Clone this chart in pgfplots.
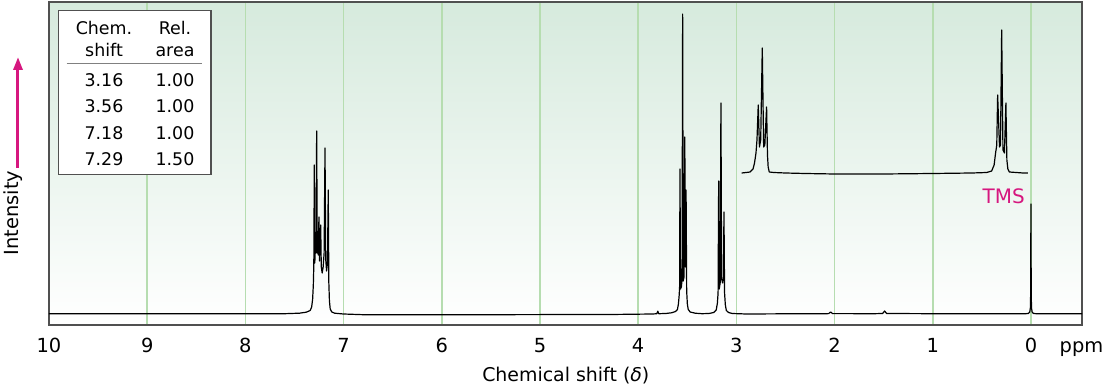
\documentclass[border=0pt]{standalone}
\usepackage{pgfplots}
\pgfplotsset{compat=1.18}
\usepackage{fontspec}
\setmainfont{DejaVu Sans}
\usetikzlibrary{arrows.meta}
\definecolor{gridgreen}{RGB}{182,221,176}
\definecolor{mag}{RGB}{214,23,127}
\definecolor{framec}{RGB}{80,80,80}
\definecolor{bgtop}{RGB}{214,234,221}
\begin{document}
\begin{tikzpicture}
\useasboundingbox (-49bp,-63bp) rectangle (1056bp,325bp);
\begin{axis}[
  at={(0,0)}, anchor=south west,
  scale only axis, width=1033bp, height=323bp,
  x dir=reverse, xmin=-0.52, xmax=10, ymin=0, ymax=323,
  xtick={0,...,10}, ytick=\empty,
  major tick length=0pt,
  xmajorgrids, grid style={gridgreen, line width=1.6bp},
  axis line style={framec, line width=1.8bp},
  axis background/.style={top color=bgtop, bottom color=white},
  xticklabel style={font=\fontsize{19.5}{20}\selectfont, anchor=base, yshift=-27.3bp},
  /pgf/number format/assume math mode=true,
]
\addplot[black, line width=1.2bp, line join=round] coordinates {
(10.00,11.2) (9.0,11.2) (8.0,11.2) (7.6,11.3) (7.45,11.8) (7.38,12.8) (7.34,14.5) (7.325,18) (7.315,26) (7.308,40) (7.303,60) (7.298,160) (7.293,62) (7.287,78) (7.281,72) (7.274,194) (7.268,72) (7.262,88) (7.257,70) (7.251,108) (7.246,64) (7.240,78) (7.233,100) (7.227,58) (7.218,52) (7.208,58) (7.198,72) (7.189,177) (7.182,66) (7.173,54) (7.164,62) (7.156,135) (7.150,42) (7.144,24) (7.136,16) (7.12,13) (7.09,11.8) (7.0,11) (6.8,10.3) (6.0,10.2) (5.0,10.4) (4.2,10.6) (3.85,11) (3.81,11.3) (3.80,13.8) (3.79,11.3) (3.72,11.5) (3.66,12.2) (3.62,13.5) (3.60,15.5) (3.590,21) (3.582,30) (3.578,38) (3.574,156) (3.569,36) (3.560,38) (3.553,45) (3.547,311) (3.541,44) (3.533,48) (3.525,188) (3.519,58) (3.512,135) (3.506,34) (3.499,21) (3.490,15.5) (3.47,13) (3.42,11.8) (3.35,11.3) (3.28,11.5) (3.23,12.5) (3.205,15) (3.193,22) (3.186,32) (3.180,144) (3.174,36) (3.165,42) (3.157,222) (3.150,46) (3.140,42) (3.132,48) (3.126,113) (3.120,32) (3.112,20) (3.102,14.5) (3.08,12.5) (3.04,11.5) (2.9,11) (2.5,11.2) (2.1,11.2) (2.06,11.4) (2.04,13) (2.02,11.4) (1.6,11.3) (1.51,11.5) (1.49,14) (1.47,11.5) (1.0,11.3) (0.3,11.2) (0.06,11.2) (0.025,11.6) (0.012,13) (0.006,17) (0.003,30) (0.0,121) (-0.003,30) (-0.006,17) (-0.012,13) (-0.025,11.6) (-0.06,11.2) (-0.52,11.2)
};
\addplot[black, line width=1.2bp, line join=round] coordinates {
(2.946,152) (2.90,152.5) (2.86,153) (2.83,156) (2.815,162) (2.80,172) (2.790,185) (2.777,220) (2.765,178) (2.752,185) (2.736,277) (2.722,178) (2.710,180) (2.692,218) (2.683,170) (2.676,158) (2.665,153) (2.62,152.5) (2.5,152) (2.3,151.5) (2.0,151) (1.5,151) (1.0,151.5) (0.6,152) (0.45,152.5) (0.40,154) (0.375,160) (0.36,172) (0.348,180) (0.339,230) (0.320,178) (0.310,180) (0.298,295) (0.285,175) (0.270,172) (0.255,222) (0.245,165) (0.235,156) (0.22,153) (0.15,152.5) (0.08,152) (0.031,152)
};
\end{axis}
\begin{scope}[shift={(current axis.north west)}]
  \draw[fill=white, draw=framec, line width=1.2bp] (9.7bp,-8.7bp) rectangle (162bp,-172.3bp);
  \draw[gray, line width=1bp] (17.7bp,-62bp) -- (152.7bp,-62bp);
  \begin{scope}[every node/.style={anchor=base, inner sep=0pt, font=\fontsize{17.5}{18}\selectfont}]
    \node at (55bp,-32.3bp) {Chem.};
    \node at (126bp,-32.3bp) {Rel.};
    \node at (55bp,-54.7bp) {shift};
    \node at (126bp,-54.7bp) {area};
    \node at (55bp,-84.7bp) {3.16};
    \node at (126bp,-84.7bp) {1.00};
    \node at (55bp,-110.3bp) {3.56};
    \node at (126bp,-110.3bp) {1.00};
    \node at (55bp,-137.3bp) {7.18};
    \node at (126bp,-137.3bp) {1.00};
    \node at (55bp,-163.7bp) {7.29};
    \node at (126bp,-163.7bp) {1.50};
  \end{scope}
  \draw[mag, line width=3bp, -{Triangle[length=13bp,width=9bp]}] (-31bp,-166bp) -- (-31bp,-55bp);
  \node[rotate=90, anchor=base, inner sep=0pt, font=\fontsize{19.5}{20}\selectfont] at (-31bp,-211bp) {Intensity};
  \node[anchor=base, inner sep=0pt, text=mag, font=\fontsize{20}{20}\selectfont] at (954.7bp,-201.3bp) {TMS};
  \node[anchor=base, inner sep=0pt, font=\fontsize{19}{20}\selectfont] at (516.8bp,-379bp) {Chemical shift (\textit{δ})};
  \node[anchor=base, inner sep=0pt, font=\fontsize{19.5}{20}\selectfont] at (1032.5bp,-350.3bp) {ppm};
\end{scope}
\end{tikzpicture}
\end{document}
